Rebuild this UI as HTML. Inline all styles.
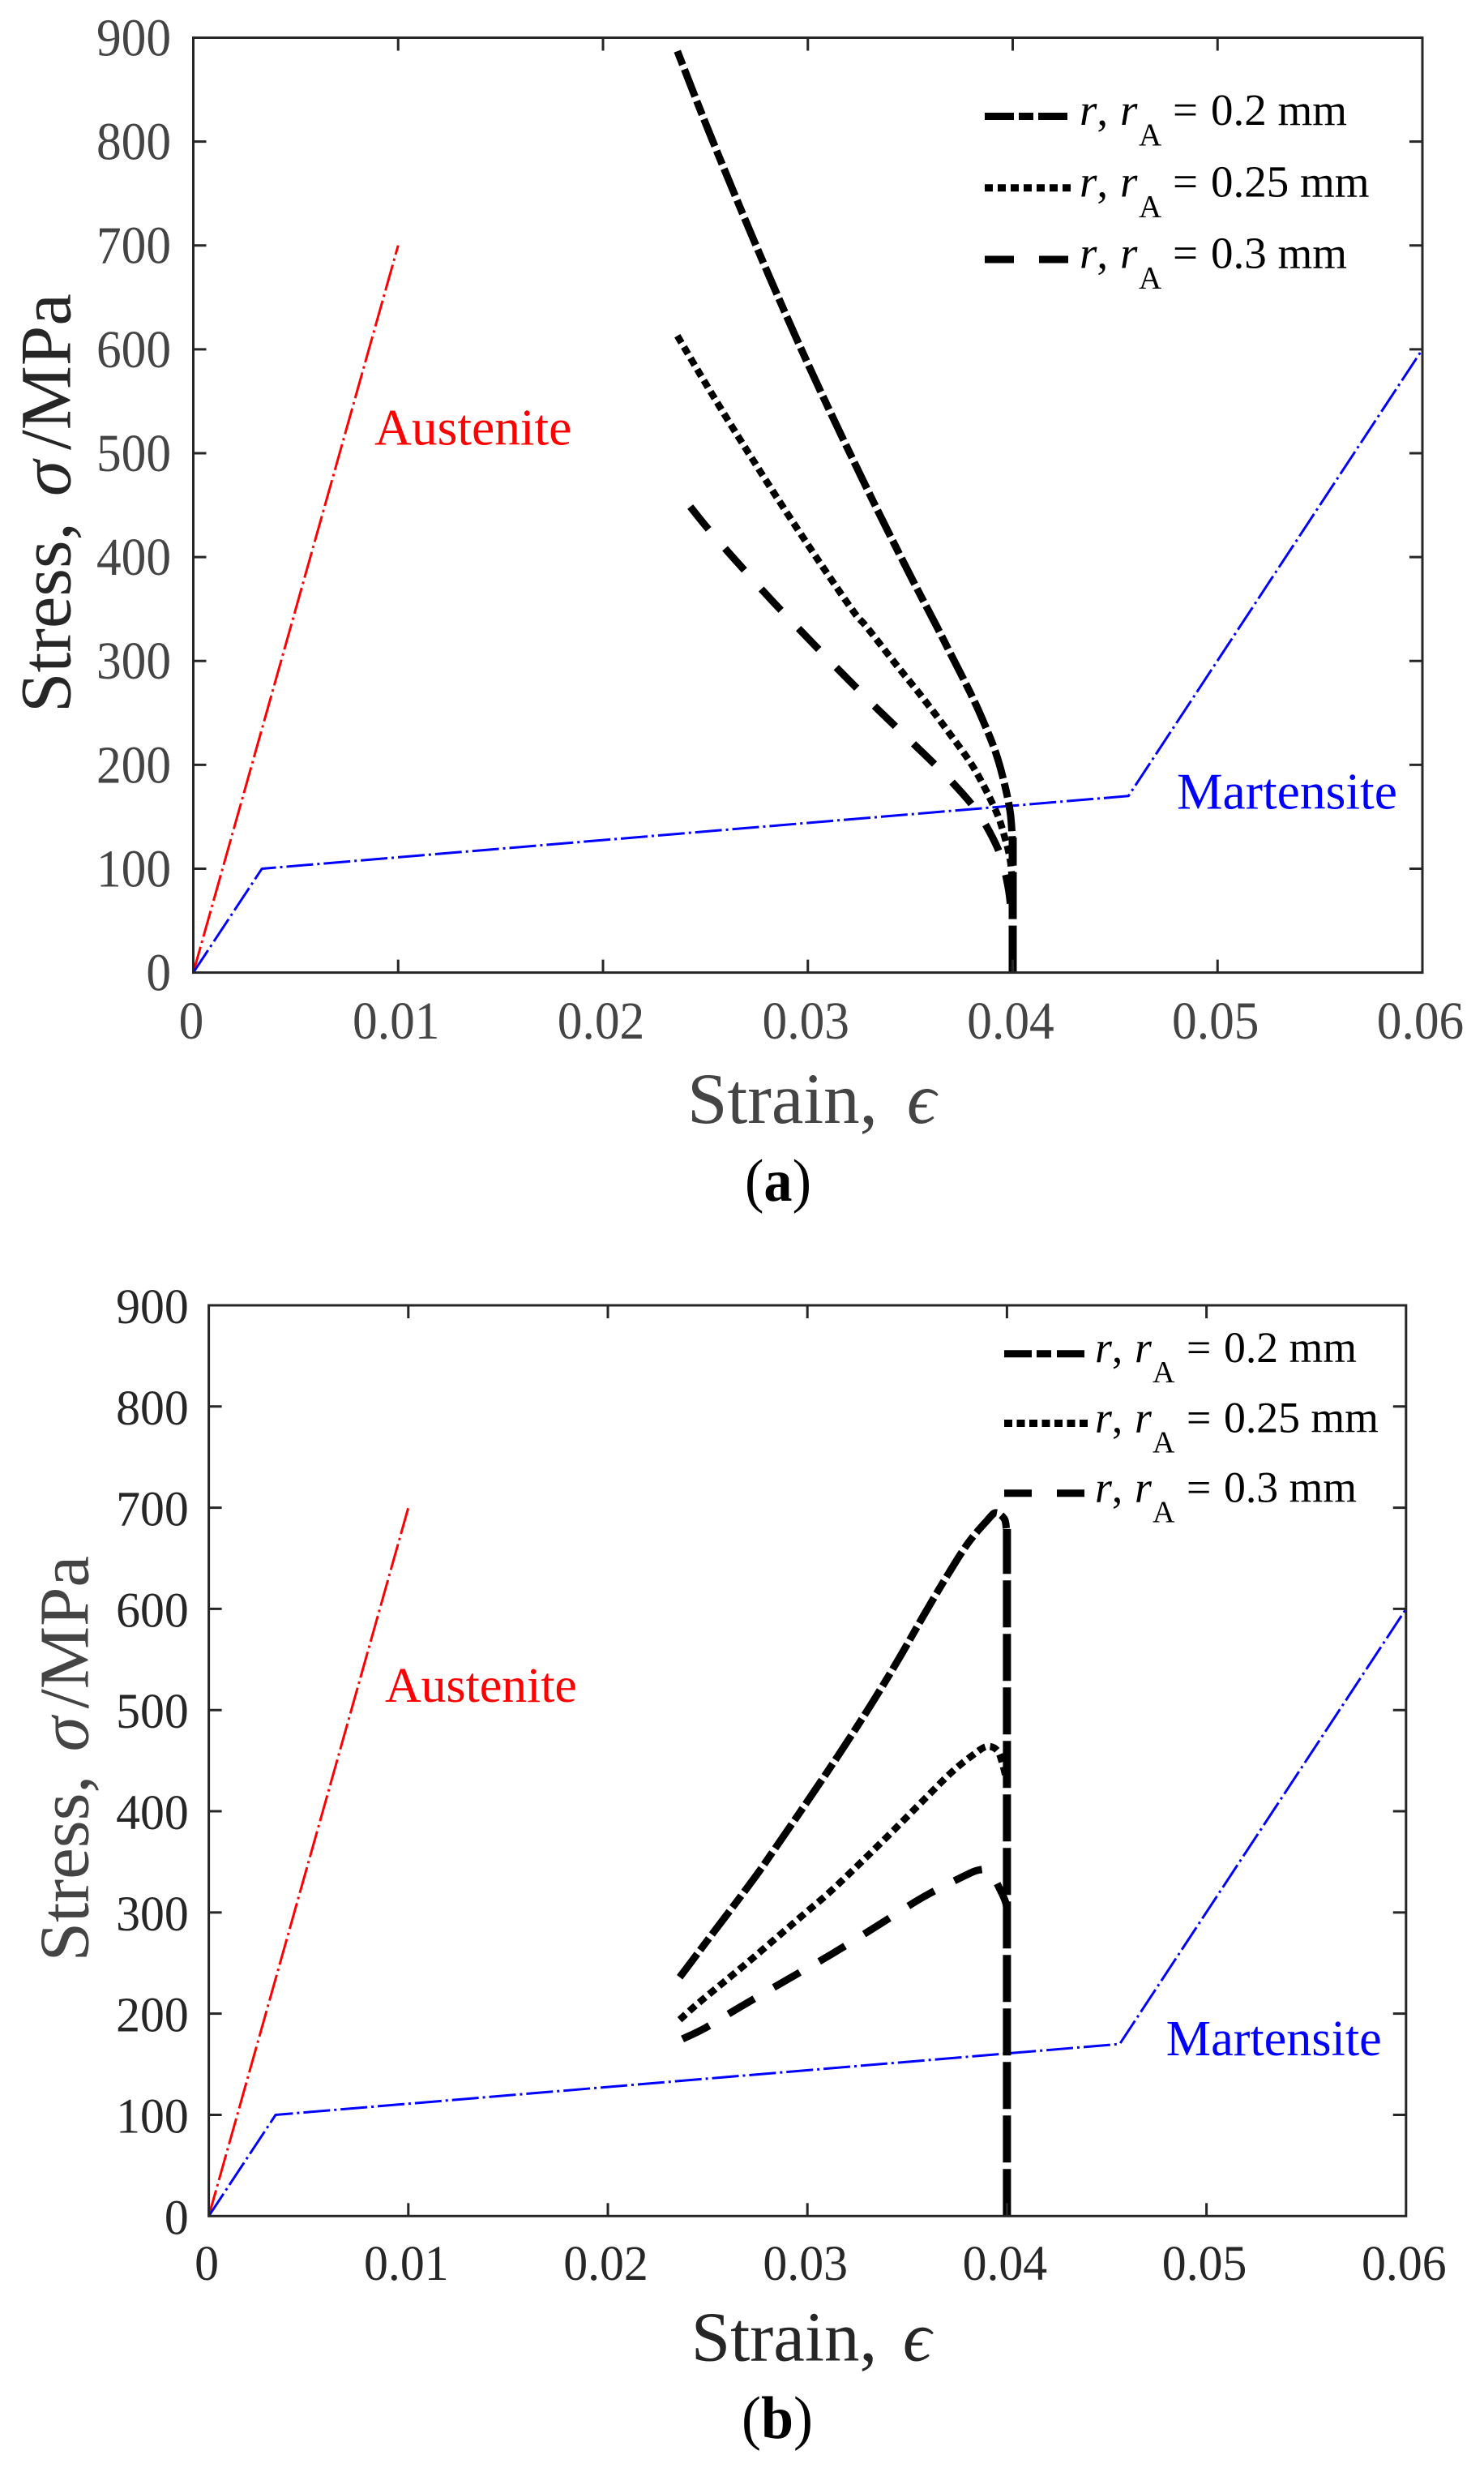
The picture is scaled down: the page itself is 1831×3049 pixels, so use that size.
<!DOCTYPE html>
<html lang="en">
<head>
<meta charset="utf-8">
<title>Stress-strain curves</title>
<style>
html,body{margin:0;padding:0;background:#fff;}
svg{display:block;}
text{font-family:"Liberation Serif","DejaVu Serif",serif;white-space:pre;}
</style>
</head>
<body>
<svg id="figure" xmlns="http://www.w3.org/2000/svg" width="1831" height="3049" viewBox="0 0 1831 3049">
  <rect x="0" y="0" width="1831" height="3049" fill="#fff"/>

  <g id="panel-a">
    <g id="a-series"></g>
    <g id="a-axes"></g>
    <text transform="translate(86.3,879) rotate(-90)" font-size="89" fill="#262626"><tspan x="0">Stress,</tspan><tspan x="267" font-style="italic">σ</tspan><tspan x="324">/MPa</tspan></text>
    <text y="1385" font-size="89" fill="#444"><tspan x="848">Strain,</tspan><tspan x="1119" font-style="italic">ϵ</tspan></text>
    <text x="919" y="1481" font-size="74" fill="#000" textLength="82" lengthAdjust="spacingAndGlyphs">(<tspan font-weight="bold">a</tspan>)</text>
    <text x="462" y="548.7" font-size="63.5" fill="#f00">Austenite</text>
    <text x="1452" y="997.5" font-size="63.6" fill="#00f">Martensite</text>
    <g>
      <g>
        <line x1="1215" y1="143.5" x2="1318" y2="143.5" stroke="#000" stroke-width="9" stroke-dasharray="36 6 18 6"/>
        <text y="154" font-size="55" fill="#000"><tspan x="1332" font-style="italic">r</tspan>,<tspan x="1382" font-style="italic">r</tspan><tspan x="1405" dy="25" font-size="39">A</tspan><tspan x="1447" dy="-25">=</tspan><tspan x="1494">0.2 mm</tspan></text>
      </g>
      <g>
        <line x1="1215" y1="231.7" x2="1322" y2="231.7" stroke="#000" stroke-width="9" stroke-dasharray="10 6"/>
        <text y="242.4" font-size="55" fill="#000"><tspan x="1332" font-style="italic">r</tspan>,<tspan x="1382" font-style="italic">r</tspan><tspan x="1405" dy="25" font-size="39">A</tspan><tspan x="1447" dy="-25">=</tspan><tspan x="1494">0.25 mm</tspan></text>
      </g>
      <g>
        <line x1="1215" y1="320" x2="1318" y2="320" stroke="#000" stroke-width="9" stroke-dasharray="36 31"/>
        <text y="330.6" font-size="55" fill="#000"><tspan x="1332" font-style="italic">r</tspan>,<tspan x="1382" font-style="italic">r</tspan><tspan x="1405" dy="25" font-size="39">A</tspan><tspan x="1447" dy="-25">=</tspan><tspan x="1494">0.3 mm</tspan></text>
      </g>
    </g>
  </g>

  <g id="panel-b">
    <g id="b-series"></g>
    <g id="b-axes"></g>
    <text transform="translate(108.4,2419.4) rotate(-90)" font-size="87" fill="#444"><tspan x="0">Stress,</tspan><tspan x="259" font-style="italic">σ</tspan><tspan x="312">/MPa</tspan></text>
    <text y="2911.6" font-size="87" fill="#262626"><tspan x="852.7">Strain,</tspan><tspan x="1114" font-style="italic">ϵ</tspan></text>
    <text x="915" y="3007" font-size="74" fill="#000" textLength="88" lengthAdjust="spacingAndGlyphs">(<tspan font-weight="bold">b</tspan>)</text>
    <text x="475" y="2099" font-size="61.8" fill="#f00">Austenite</text>
    <text x="1438.8" y="2535" font-size="62.2" fill="#00f">Martensite</text>
    <g>
      <g>
        <line x1="1239" y1="1669.7" x2="1338" y2="1669.7" stroke="#000" stroke-width="9" stroke-dasharray="34 6 18 7"/>
        <text y="1680" font-size="53.7" fill="#000"><tspan x="1351" font-style="italic">r</tspan>,<tspan x="1400" font-style="italic">r</tspan><tspan x="1422" dy="25" font-size="38">A</tspan><tspan x="1464" dy="-25">=</tspan><tspan x="1510">0.2 mm</tspan></text>
      </g>
      <g>
        <line x1="1239" y1="1755.5" x2="1343" y2="1755.5" stroke="#000" stroke-width="9" stroke-dasharray="10 5.5"/>
        <text y="1766.6" font-size="53.7" fill="#000"><tspan x="1351" font-style="italic">r</tspan>,<tspan x="1400" font-style="italic">r</tspan><tspan x="1422" dy="25" font-size="38">A</tspan><tspan x="1464" dy="-25">=</tspan><tspan x="1510">0.25 mm</tspan></text>
      </g>
      <g>
        <line x1="1239" y1="1841.8" x2="1338" y2="1841.8" stroke="#000" stroke-width="9" stroke-dasharray="34 31"/>
        <text y="1852.4" font-size="53.7" fill="#000"><tspan x="1351" font-style="italic">r</tspan>,<tspan x="1400" font-style="italic">r</tspan><tspan x="1422" dy="25" font-size="38">A</tspan><tspan x="1464" dy="-25">=</tspan><tspan x="1510">0.3 mm</tspan></text>
      </g>
    </g>
  </g>
</svg>

<script>
// Axis tick values and labels
const strainTicks = [0, 0.01, 0.02, 0.03, 0.04, 0.05, 0.06];
const strainTickLabels = ['0', '0.01', '0.02', '0.03', '0.04', '0.05', '0.06'];
const stressTicks = [0, 100, 200, 300, 400, 500, 600, 700, 800, 900];
const stressTickLabels = ['0', '100', '200', '300', '400', '500', '600', '700', '800', '900'];

// Reference material curves (same in both panels)
const austeniteStrain = [0, 0.01];
const austeniteStress = [0, 700];
const martensiteStrain = [0, 0.00335, 0.04565, 0.06];
const martensiteStress = [0, 100, 170, 600];

// Panel (a) series
const aR02Strain = [0.02363, 0.02512, 0.02683, 0.02812, 0.02968, 0.03111, 0.03254, 0.03368, 0.03511, 0.03622, 0.03694, 0.03789, 0.03852, 0.03915, 0.03957, 0.03988, 0.03999];
const aR02Stress = [887, 812, 730, 670, 600, 539, 480, 434, 378, 336, 308, 271, 244, 213, 184, 154, 125];
const aR025Strain = [0.02363, 0.02468, 0.02597, 0.0274, 0.02883, 0.03054, 0.03225, 0.03286, 0.03433, 0.03559, 0.03685, 0.0381, 0.03915, 0.03957, 0.03988, 0.04];
const aR025Stress = [613, 578, 536, 491, 447, 396, 347, 333, 296, 265, 232, 197, 157, 133, 108, 80];
const aR03Strain = [0.02426, 0.02497, 0.02597, 0.02683, 0.02783, 0.02868, 0.03034, 0.0314, 0.03233, 0.03328, 0.03433, 0.03517, 0.03622, 0.03706, 0.038, 0.03863, 0.03936, 0.03978, 0.03995];
const aR03Stress = [448.5, 431, 408, 389, 367, 349, 315, 293.5, 275, 256, 236, 220, 200, 183, 162, 144, 115, 82, 52];
const aCommonStrain = [0.04, 0.04];
const aCommonStress = [0, 130];

// Panel (b) series
const bR02Strain = [0.0236, 0.02425, 0.02528, 0.02632, 0.02749, 0.02816, 0.03004, 0.03164, 0.03324, 0.03459, 0.03578, 0.03698, 0.03805, 0.03899, 0.03944, 0.03987, 0.03997];
const bR02Stress = [236, 253, 280, 307, 338, 357, 411, 458, 507, 551, 592, 632, 665, 687, 695, 689, 679];
const bR025Strain = [0.0236, 0.02451, 0.0258, 0.02709, 0.02839, 0.02969, 0.03111, 0.03271, 0.03431, 0.03592, 0.03725, 0.03832, 0.03899, 0.03952, 0.03979, 0.03997];
const bR025Stress = [194, 210, 231, 252, 274, 296, 320, 350, 381, 413, 439, 456, 464, 460, 446, 431];
const bR03Strain = [0.02374, 0.02489, 0.02658, 0.02955, 0.03123, 0.0336, 0.03575, 0.03775, 0.0386, 0.03915, 0.03967, 0.03995, 0.04];
const bR03Stress = [175, 186, 206, 240, 259, 288, 314.6, 335, 342, 340, 322, 309, 297];
const bCommonStrain = [0.04, 0.04];
const bCommonStress = [0, 679];

const SVG_NS = 'http://www.w3.org/2000/svg';
const DASH_DOT_THIN = '33 5 3 5';
const DASH_DOT_THICK = '36 6 18 6';
const DOTTED = '10 6';
const DASHED = '36 31';
const DASHED_B = '37 27.7';
const COMMON = '58 8';

function makeAxis(domainMin, domainMax, pxMin, pxMax) {
  return function (v) {
    return pxMin + (v - domainMin) / (domainMax - domainMin) * (pxMax - pxMin);
  };
}

function addLine(parent, x1, y1, x2, y2, color, width) {
  const el = document.createElementNS(SVG_NS, 'line');
  el.setAttribute('x1', x1);
  el.setAttribute('y1', y1);
  el.setAttribute('x2', x2);
  el.setAttribute('y2', y2);
  el.setAttribute('stroke', color);
  el.setAttribute('stroke-width', width);
  parent.appendChild(el);
  return el;
}

// Smooth path through the data points (straight for piecewise lines when smooth is false)
function pathFrom(px, py, smooth) {
  let d = 'M' + px[0].toFixed(2) + ' ' + py[0].toFixed(2);
  for (let i = 0; i < px.length - 1; i++) {
    if (!smooth) {
      d += ' L' + px[i + 1].toFixed(2) + ' ' + py[i + 1].toFixed(2);
      continue;
    }
    const a = Math.max(i - 1, 0);
    const b = Math.min(i + 2, px.length - 1);
    const c1x = px[i] + (px[i + 1] - px[a]) / 6;
    const c1y = py[i] + (py[i + 1] - py[a]) / 6;
    const c2x = px[i + 1] - (px[b] - px[i]) / 6;
    const c2y = py[i + 1] - (py[b] - py[i]) / 6;
    d += ' C' + c1x.toFixed(2) + ' ' + c1y.toFixed(2) + ' ' + c2x.toFixed(2) + ' ' + c2y.toFixed(2) + ' ' + px[i + 1].toFixed(2) + ' ' + py[i + 1].toFixed(2);
  }
  return d;
}

function addCurve(parent, name, xs, ys, xAxis, yAxis, color, width, dash, offset, smooth) {
  const el = document.createElementNS(SVG_NS, 'path');
  el.setAttribute('d', pathFrom(xs.map(xAxis), ys.map(yAxis), smooth));
  el.setAttribute('fill', 'none');
  el.setAttribute('stroke', color);
  el.setAttribute('stroke-width', width);
  el.setAttribute('stroke-dasharray', dash);
  el.setAttribute('stroke-dashoffset', offset || 0);
  el.setAttribute('stroke-linejoin', 'round');
  
  
  parent.appendChild(el);
  return el;
}

function addTickText(parent, name, label, x, y, anchor, size, sx, color) {
  const el = document.createElementNS(SVG_NS, 'text');
  el.textContent = label;
  el.setAttribute('transform', 'translate(' + x + ',' + y + ') scale(' + sx + ',1)');
  el.setAttribute('text-anchor', anchor);
  el.setAttribute('font-size', size);
  el.setAttribute('fill', color);
  
  
  parent.appendChild(el);
  return el;
}

function drawAxes(parent, prefix, g) {
  const xAxis = makeAxis(0, 0.06, g.left, g.right);
  const yAxis = makeAxis(0, 900, g.bottom, g.top);

  const frame = document.createElementNS(SVG_NS, 'rect');
  frame.setAttribute('x', g.left);
  frame.setAttribute('y', g.top);
  frame.setAttribute('width', g.right - g.left);
  frame.setAttribute('height', g.bottom - g.top);
  frame.setAttribute('fill', 'none');
  frame.setAttribute('stroke', '#262626');
  frame.setAttribute('stroke-width', 3);
  
  
  parent.appendChild(frame);

  strainTicks.forEach(function (t, i) {
    const x = xAxis(t);
    if (i > 0 && i < strainTicks.length - 1) {
      const b = addLine(parent, x, g.bottom, x, g.bottom - 16, '#262626', 3);
      
      
      const tp = addLine(parent, x, g.top, x, g.top + 16, '#262626', 3);
      
      
    }
    addTickText(parent, prefix + '-x-tick-label', strainTickLabels[i], x - 2.5, g.xLabelY, 'middle', g.tickSize, g.tickSx, g.tickColor);
  });

  stressTicks.forEach(function (t, i) {
    const y = yAxis(t);
    if (i > 0 && i < stressTicks.length - 1) {
      const l = addLine(parent, g.left, y, g.left + 16, y, '#262626', 3);
      
      
      const r = addLine(parent, g.right, y, g.right - 16, y, '#262626', 3);
      
      
    }
    addTickText(parent, prefix + '-y-tick-label', stressTickLabels[i], g.yLabelX, y + 22, 'end', g.tickSize, g.tickSx, g.tickColor);
  });
}

const panelA = { left: 238.5, right: 1755, top: 46.5, bottom: 1199.6, xLabelY: 1281, yLabelX: 211, tickSize: 66, tickSx: 0.93, tickColor: '#444' };
const panelB = { left: 257.6, right: 1734.8, top: 1610, bottom: 2733.3, xLabelY: 2812, yLabelX: 232.8, tickSize: 61, tickSx: 0.98, tickColor: '#262626' };

(function () {
  const ax = makeAxis(0, 0.06, panelA.left, panelA.right);
  const ay = makeAxis(0, 900, panelA.bottom, panelA.top);
  const sa = document.getElementById('a-series');
  addCurve(sa, 'panel-a-austenite-line', austeniteStrain, austeniteStress, ax, ay, '#f00', 3, DASH_DOT_THIN, 0, false);
  addCurve(sa, 'panel-a-martensite-line', martensiteStrain, martensiteStress, ax, ay, '#00f', 3, DASH_DOT_THIN, 0, false);
  addCurve(sa, 'panel-a-r-0-3-line', aR03Strain, aR03Stress, ax, ay, '#000', 9, DASHED, 0, true);
  addCurve(sa, 'panel-a-r-0-25-line', aR025Strain, aR025Stress, ax, ay, '#000', 8.5, DOTTED, 0, true);
  addCurve(sa, 'panel-a-r-0-2-line', aR02Strain, aR02Stress, ax, ay, '#000', 9, DASH_DOT_THICK, 42, true);
  addCurve(sa, 'panel-a-common-unloading-line', aCommonStrain, aCommonStress, ax, ay, '#000', 10, COMMON, 0, false);
  drawAxes(document.getElementById('a-axes'), 'panel-a', panelA);

  const bx = makeAxis(0, 0.06, panelB.left, panelB.right);
  const by = makeAxis(0, 900, panelB.bottom, panelB.top);
  const sb = document.getElementById('b-series');
  addCurve(sb, 'panel-b-austenite-line', austeniteStrain, austeniteStress, bx, by, '#f00', 3, DASH_DOT_THIN, 0, false);
  addCurve(sb, 'panel-b-martensite-line', martensiteStrain, martensiteStress, bx, by, '#00f', 3, DASH_DOT_THIN, 0, false);
  addCurve(sb, 'panel-b-r-0-3-line', bR03Strain, bR03Stress, bx, by, '#000', 9, DASHED_B, 0, true);
  addCurve(sb, 'panel-b-r-0-25-line', bR025Strain, bR025Stress, bx, by, '#000', 8.5, DOTTED, 0, true);
  addCurve(sb, 'panel-b-r-0-2-line', bR02Strain, bR02Stress, bx, by, '#000', 9, DASH_DOT_THICK, 0, true);
  addCurve(sb, 'panel-b-common-unloading-line', bCommonStrain, bCommonStress, bx, by, '#000', 10, COMMON, 0, false);
  drawAxes(document.getElementById('b-axes'), 'panel-b', panelB);
})();
</script>
</body>
</html>
